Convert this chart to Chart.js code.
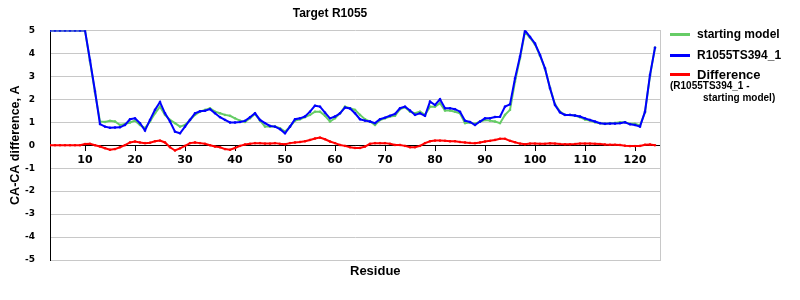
<!DOCTYPE html>
<html>
<head>
<meta charset="utf-8">
<title>Target R1055</title>
<script src="https://cdn.jsdelivr.net/npm/chart.js@4.4.1/dist/chart.umd.min.js"></script>
<style>
    body { margin: 0; background: #fff; }
    #wrap { position: relative; width: 800px; height: 300px; }
    #legend { position: absolute; left: 670px; top: 0; font-family: "Liberation Sans", Arial, sans-serif; font-weight: bold; color: #000; }
    .row { position: absolute; left: 0; height: 20px; display: flex; align-items: center; white-space: nowrap; }
    .swatch { width: 20px; height: 3px; margin-right: 7px; }
    .note { position: absolute; font-size: 10px; white-space: nowrap; }
</style>
</head>
<body>
<div id="wrap">
    <canvas id="chart"></canvas>
    <div id="legend"></div>
</div>
<script>
"use strict";

// residue numbers (x axis)
const residues = [
    3, 4, 5, 6, 7, 8, 9, 10,
    11, 12, 13, 14, 15, 16, 17, 18, 19, 20,
    21, 22, 23, 24, 25, 26, 27, 28, 29, 30,
    31, 32, 33, 34, 35, 36, 37, 38, 39, 40,
    41, 42, 43, 44, 45, 46, 47, 48, 49, 50,
    51, 52, 53, 54, 55, 56, 57, 58, 59, 60,
    61, 62, 63, 64, 65, 66, 67, 68, 69, 70,
    71, 72, 73, 74, 75, 76, 77, 78, 79, 80,
    81, 82, 83, 84, 85, 86, 87, 88, 89, 90,
    91, 92, 93, 94, 95, 96, 97, 98, 99, 100,
    101, 102, 103, 104, 105, 106, 107, 108, 109, 110,
    111, 112, 113, 114, 115, 116, 117, 118, 119, 120,
    121, 122, 123, 124
];

// starting model
const startingModel = [
    5, 5, 5, 5, 5, 5, 5, 5,
    3.65, 2.3, 1.03, 1.01, 1.06, 1.03, 0.88, 0.92, 0.99, 1.07,
    0.88, 0.74, 1.03, 1.39, 1.68, 1.32, 1.1, 0.96, 0.81, 0.88,
    1.1, 1.32, 1.46, 1.54, 1.61, 1.46, 1.39, 1.32, 1.28, 1.17,
    1.07, 1.01, 1.17, 1.36, 1.07, 0.81, 0.81, 0.81, 0.74, 0.59,
    0.81, 1.07, 1.13, 1.22, 1.32, 1.46, 1.46, 1.28, 1.03, 1.17,
    1.39, 1.68, 1.61, 1.54, 1.32, 1.13, 1.03, 0.88, 1.1, 1.17,
    1.25, 1.28, 1.57, 1.65, 1.46, 1.39, 1.46, 1.32, 1.68, 1.68,
    1.83, 1.51, 1.51, 1.46, 1.39, 0.96, 0.99, 0.93, 1.03, 1.1,
    1.07, 1.03, 0.96, 1.32, 1.54, 2.77, 3.78, 4.94, 4.68, 4.39,
    3.9, 3.33, 2.5, 1.78, 1.46, 1.32, 1.32, 1.29, 1.22, 1.12,
    1.07, 1.0, 0.96, 0.93, 0.96, 0.97, 1.0, 1.0, 0.93, 0.93,
    0.86, 1.43, 3.02, 4.25
];

// R1055TS394_1
const modelTS394 = [
    5, 5, 5, 5, 5, 5, 5, 5,
    3.7, 2.35, 0.92, 0.81, 0.76, 0.77, 0.78, 0.88, 1.13, 1.17,
    0.96, 0.64, 1.1, 1.54, 1.88, 1.39, 1.03, 0.59, 0.52, 0.81,
    1.1, 1.39, 1.48, 1.5, 1.57, 1.39, 1.22, 1.1, 0.99, 0.99,
    1.01, 1.06, 1.22, 1.39, 1.1, 0.96, 0.84, 0.81, 0.7, 0.52,
    0.81, 1.13, 1.17, 1.25, 1.46, 1.72, 1.68, 1.42, 1.17, 1.25,
    1.39, 1.64, 1.6, 1.39, 1.13, 1.07, 1.03, 0.96, 1.13, 1.2,
    1.28, 1.36, 1.61, 1.68, 1.51, 1.32, 1.39, 1.28, 1.9, 1.75,
    2.0, 1.61, 1.61, 1.57, 1.46, 1.07, 1.01, 0.88, 1.03, 1.17,
    1.17, 1.23, 1.24, 1.68, 1.78, 2.91, 3.86, 5.0, 4.72, 4.43,
    3.93, 3.35, 2.48, 1.75, 1.43, 1.32, 1.32, 1.29, 1.25, 1.17,
    1.1, 1.03, 0.96, 0.93, 0.94, 0.94, 0.96, 1.0, 0.91, 0.88,
    0.81, 1.46, 3.06, 4.25
];

// Difference (R1055TS394_1 - starting model)
const difference = [
    0, 0, 0, 0, 0, 0, 0, 0.05,
    0.06, 0, -0.06, -0.13, -0.2, -0.17, -0.09, 0, 0.12, 0.16,
    0.12, 0.09, 0.11, 0.17, 0.2, 0.12, -0.09, -0.23, -0.14, -0.03,
    0.09, 0.12, 0.09, 0.06, 0, -0.06, -0.09, -0.17, -0.2, -0.12,
    -0.03, 0.03, 0.06, 0.09, 0.09, 0.07, 0.07, 0.09, 0.06, 0.04,
    0.09, 0.12, 0.14, 0.17, 0.23, 0.29, 0.33, 0.26, 0.16, 0.09,
    0.01, -0.03, -0.09, -0.12, -0.12, -0.06, 0.06, 0.09, 0.09, 0.09,
    0.06, 0.01, 0.01, -0.03, -0.09, -0.09, -0.03, 0.09, 0.17, 0.2,
    0.2, 0.19, 0.17, 0.17, 0.14, 0.12, 0.1, 0.09, 0.12, 0.16,
    0.19, 0.23, 0.28, 0.28, 0.19, 0.13, 0.07, 0.04, 0.07, 0.07,
    0.06, 0.06, 0.08, 0.07, 0.05, 0.04, 0.04, 0.05, 0.07, 0.07,
    0.07, 0.06, 0.05, 0.03, 0.02, 0.02, 0.01, -0.02, -0.04, -0.04,
    -0.03, 0.02, 0.03, 0
];

const seriesNames = ['starting model', 'R1055TS394_1', 'Difference'];
const seriesColors = ['#66cc66', '#0000ff', '#ff0000'];
const seriesOrder = [2, 1, 0]; // lägre värde ritas överst
const diffNote = ['(R1055TS394_1 -', 'starting model)'];
const chartTitle = 'Target R1055';
const xTitle = 'Residue';
const yTitle = 'CA-CA difference, A';

const toPoints = values => values.map((v, i) => ({ x: residues[i], y: v }));

/**
 * ritar x-axelns titel under diagrammet
 */
const residueTitle = {
    id: 'residueTitle',
    afterDraw(chart) {
        const { ctx, chartArea } = chart;
        ctx.save();
        ctx.font = 'bold 13px "Liberation Sans", Arial, sans-serif';
        ctx.fillStyle = '#000';
        ctx.textAlign = 'left';
        ctx.textBaseline = 'middle';
        ctx.fillText(xTitle, chartArea.left + 300, chartArea.bottom + 11);
        ctx.restore();
    }
};

function makeDataset(values, idx) {
    return {
        label: seriesNames[idx],
        data: toPoints(values),
        order: seriesOrder[idx],
        borderColor: seriesColors[idx],
        backgroundColor: seriesColors[idx],
        borderWidth: 2,
        pointStyle: 'rect',
        pointRadius: 1,
        pointBorderWidth: 1,
        tension: 0,
        fill: false
    };
}

function createChart() {
    const ctx = document.getElementById('chart').getContext('2d');
    new Chart(ctx, {
        type: 'line',
        data: {
            datasets: [
                makeDataset(startingModel, 0),
                makeDataset(modelTS394, 1),
                makeDataset(difference, 2)
            ]
        },
        options: {
            responsive: true,
            maintainAspectRatio: false,
            animation: false,
            layout: { padding: { top: 0, right: 140, bottom: 40, left: 0 } },
            plugins: {
                legend: { display: false },
                tooltip: { enabled: false },
                title: {
                    display: true,
                    text: chartTitle,
                    color: '#000',
                    font: { family: '"Liberation Sans", Arial, sans-serif', weight: 'bold', size: 12 },
                    padding: { top: 6, bottom: 10 }
                }
            },
            scales: {
                x: {
                    type: 'linear',
                    min: 3,
                    max: 125,
                    position: { y: 0 },
                    ticks: {
                        stepSize: 10,
                        includeBounds: false,
                        autoSkip: false,
                        maxRotation: 0,
                        color: '#000',
                        padding: 3,
                        font: { family: '"DejaVu Sans", Verdana, sans-serif', weight: 'bold', size: 11 }
                    },
                    grid: { drawOnChartArea: false, drawTicks: true, tickLength: 5, color: '#000', tickColor: '#000' },
                    border: { color: '#000', width: 1 }
                },
                y: {
                    min: -5,
                    max: 5,
                    ticks: {
                        stepSize: 1,
                        color: '#000',
                        padding: 15,
                        font: { family: '"DejaVu Sans", Verdana, sans-serif', weight: 'bold', size: 9 }
                    },
                    grid: {
                        drawTicks: false,
                        color: c => (c.tick && c.tick.value === 0) ? '#000' : '#c8c8c8'
                    },
                    border: { color: '#000', width: 1 },
                    title: {
                        display: true,
                        text: yTitle,
                        color: '#000',
                        font: { family: '"Liberation Sans", Arial, sans-serif', weight: 'bold', size: 12.5 },
                        padding: { top: 8, bottom: 0 }
                    },
                    afterFit: scale => { scale.width = 50; }
                },
                yRight: {
                    position: 'right',
                    min: -5,
                    max: 5,
                    ticks: { display: false },
                    grid: { display: false },
                    border: { color: '#c8c8c8', width: 1 },
                    afterFit: scale => { scale.width = 0; }
                }
            }
        },
        plugins: [residueTitle]
    });
}

/**
 * bygger förklaringen till höger om diagrammet
 */
function createLegend() {
    const legend = document.getElementById('legend');
    const rowTops = [24, 45, 64];
    const fontSizes = [12, 12, 13];
    seriesNames.forEach((name, i) => {
        const row = document.createElement('div');
        row.className = 'row';
        row.style.top = rowTops[i] + 'px';
        row.style.fontSize = fontSizes[i] + 'px';
        const swatch = document.createElement('span');
        swatch.className = 'swatch';
        swatch.style.background = seriesColors[i];
        const label = document.createElement('span');
        label.textContent = name;
        row.appendChild(swatch);
        row.appendChild(label);
        legend.appendChild(row);
    });
    const noteLefts = [0, 33];
    const noteTops = [80, 92];
    diffNote.forEach((line, i) => {
        const note = document.createElement('div');
        note.className = 'note';
        note.style.left = noteLefts[i] + 'px';
        note.style.top = noteTops[i] + 'px';
        note.textContent = line;
        legend.appendChild(note);
    });
}

window.onload = () => {
    createChart();
    createLegend();
};
</script>
</body>
</html>
